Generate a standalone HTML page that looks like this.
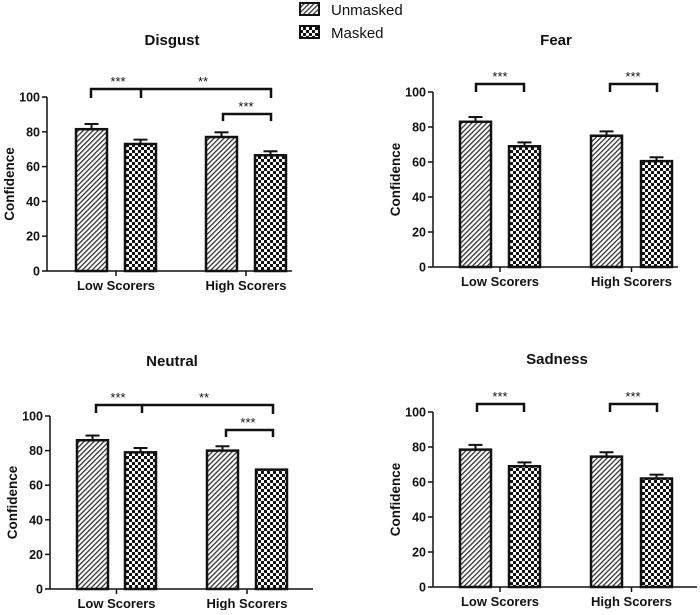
<!DOCTYPE html>
<html><head><meta charset="utf-8"><style>
body{margin:0;background:#fff}
svg text{font-family:"Liberation Sans",Arial,sans-serif;fill:#111}
</style></head><body>
<svg id="fig" width="700" height="610" xmlns="http://www.w3.org/2000/svg">
<defs>
<pattern id="hatch" width="3.5" height="3.5" patternUnits="userSpaceOnUse" patternTransform="rotate(45)">
<rect width="3.5" height="3.5" fill="#fff"/><rect width="1.3" height="3.5" fill="#333"/></pattern>
<pattern id="check" width="6" height="6" patternUnits="userSpaceOnUse">
<rect width="6" height="6" fill="#fff"/><rect width="3" height="3" fill="#111"/><rect x="3" y="3" width="3" height="3" fill="#111"/></pattern>
</defs>
<g>
<rect x="300" y="3" width="19" height="12" fill="url(#hatch)" stroke="#111" stroke-width="2"/>
<text x="331" y="15" font-size="15">Unmasked</text>
<rect x="300" y="26" width="19" height="12" fill="url(#check)" stroke="#111" stroke-width="2"/>
<text x="331" y="38" font-size="15">Masked</text>
</g>
</svg>
<script>
const groups = ["Low Scorers","High Scorers"];
const ticks = [0,20,40,60,80,100];
const disgustVals = [81.5,73,77,66.5];
const disgustErr = [3,2.5,2.7,2.3];
const fearVals = [83,69,75,60.5];
const fearErr = [2.7,2.2,2.5,2.2];
const neutralVals = [86,79,80,69];
const neutralErr = [2.7,2.5,2.5,0];
const sadnessVals = [78.5,69,74.5,62];
const sadnessErr = [2.7,2.2,2.5,2.2];

const NS="http://www.w3.org/2000/svg";
const svg=document.getElementById('fig');
function mk(tag,attrs,parent,txt){const e=document.createElementNS(NS,tag);for(const k in attrs)e.setAttribute(k,attrs[k]);if(txt!==undefined)e.textContent=txt;(parent||svg).appendChild(e);return e;}

function panel(cfg){
  const g=mk('g',{});
  
  
  const y=v=>cfg.y0-(cfg.y0-cfg.y100)*v/100;
  const t=mk('text',{x:cfg.tx,y:cfg.ty,'font-size':15,'font-weight':'bold','text-anchor':'middle'},g,cfg.title);
  
  
  const yl=mk('text',{x:0,y:0,'font-size':13.5,'font-weight':'bold','text-anchor':'middle',transform:`translate(${cfg.ax-33},${(cfg.y0+cfg.y100)/2}) rotate(-90)`},g,'Confidence');
  
  
  mk('line',{x1:cfg.ax,y1:cfg.y0,x2:cfg.ax,y2:cfg.y100,stroke:'#111','stroke-width':1.5},g);
  mk('line',{x1:cfg.ax,y1:cfg.y0,x2:cfg.axEnd,y2:cfg.y0,stroke:'#111','stroke-width':1.5},g);
  ticks.forEach(v=>{
    mk('line',{x1:cfg.ax-5,y1:y(v),x2:cfg.ax,y2:y(v),stroke:'#111','stroke-width':1.5},g);
    const tl=mk('text',{x:cfg.ax-7,y:y(v)+4.5,'font-size':12.5,'font-weight':'bold','text-anchor':'end'},g,String(v));
    
    
  });
  cfg.vals.forEach((v,i)=>{
    const x=cfg.bx[i], w=cfg.bw;
    const r=mk('rect',{x:x,y:y(v),width:w,height:cfg.y0-y(v),fill:i%2?'url(#check)':'url(#hatch)',stroke:'#111','stroke-width':2.5},g);
    
    
    const e=cfg.err[i];
    if(e>0){
      const cx=x+w/2;
      mk('line',{x1:cx,y1:y(v),x2:cx,y2:y(v+e),stroke:'#111','stroke-width':2},g);
      mk('line',{x1:cx-7,y1:y(v+e),x2:cx+7,y2:y(v+e),stroke:'#111','stroke-width':2},g);
    }
  });
  groups.forEach((name,i)=>{
    const cx=(cfg.bx[i*2]+cfg.bx[i*2+1]+cfg.bw)/2;
    mk('line',{x1:cx,y1:cfg.y0,x2:cx,y2:cfg.y0+5,stroke:'#111','stroke-width':1.5},g);
    const l=mk('text',{x:cx,y:cfg.y0+19,'font-size':13,'font-weight':'bold','text-anchor':'middle'},g,name);
    
    
  });
  cfg.brackets.forEach(b=>{
    mk('polyline',{points:`${b.x1},${b.by+b.d1} ${b.x1},${b.by} ${b.x2},${b.by} ${b.x2},${b.by+b.d2}`,fill:'none',stroke:'#111','stroke-width':2.5},g);
    const s=mk('text',{x:b.sx,y:b.by-3,'font-size':13,'text-anchor':'middle'},g,b.s);
    
    
  });
}
const leftBx=[76,125,206,255], rightBx=[460,509,591,641];
panel({key:'disgust',title:'Disgust',tx:172,ty:45,ax:47,axEnd:292,y0:271,y100:97,bx:leftBx,bw:31,vals:disgustVals,err:disgustErr,
  brackets:[{x1:91,x2:141,by:89,d1:9,d2:9,sx:118,s:'***'},{x1:141,x2:271,by:89,d1:0,d2:9,sx:203,s:'**'},{x1:223,x2:271,by:114,d1:7,d2:7,sx:246,s:'***'}]});
panel({key:'fear',title:'Fear',tx:556,ty:45,ax:433,axEnd:678,y0:267,y100:92,bx:rightBx,bw:31,vals:fearVals,err:fearErr,
  brackets:[{x1:476,x2:524,by:84,d1:8,d2:8,sx:500,s:'***'},{x1:610,x2:657,by:84,d1:8,d2:8,sx:633,s:'***'}]});
panel({key:'neutral',title:'Neutral',tx:172,ty:366,ax:50,axEnd:313,y0:589,y100:416,bx:[77,125,207,256],bw:31,vals:neutralVals,err:neutralErr,
  brackets:[{x1:96,x2:142,by:405,d1:8,d2:8,sx:118,s:'***'},{x1:142,x2:273,by:405,d1:0,d2:9,sx:204,s:'**'},{x1:226,x2:273,by:430,d1:7,d2:7,sx:248,s:'***'}]});
panel({key:'sadness',title:'Sadness',tx:557,ty:364,ax:433,axEnd:697,y0:587,y100:412,bx:rightBx,bw:31,vals:sadnessVals,err:sadnessErr,
  brackets:[{x1:477,x2:524,by:404,d1:8,d2:8,sx:500,s:'***'},{x1:610,x2:657,by:404,d1:8,d2:8,sx:633,s:'***'}]});
</script>
</body></html>
